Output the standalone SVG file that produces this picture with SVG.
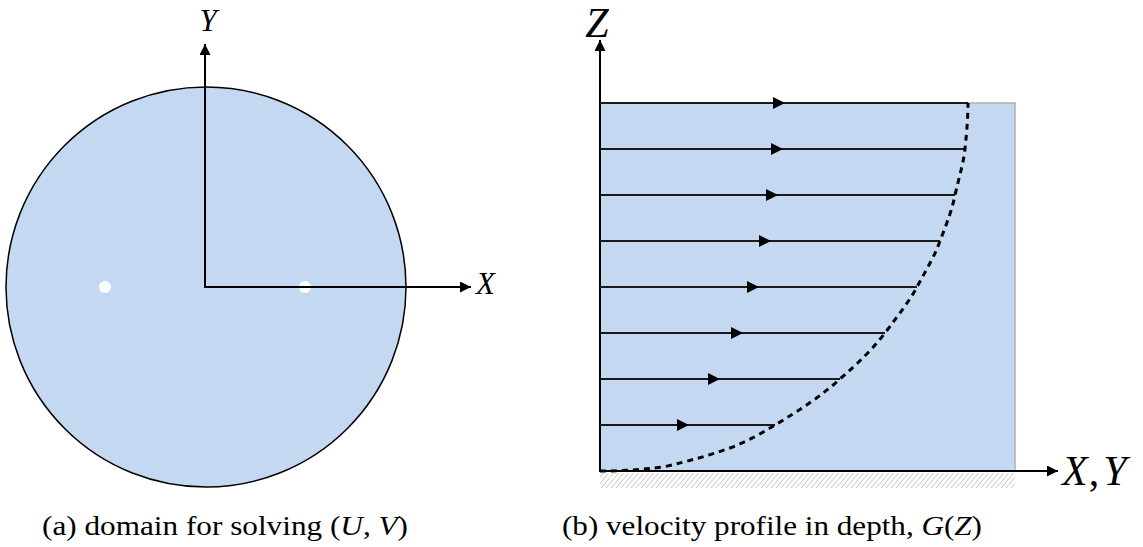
<svg xmlns="http://www.w3.org/2000/svg" width="1143" height="547" viewBox="0 0 1143 547">
<style>
.ax{stroke:#000;stroke-width:2;fill:none}
.fl{stroke:#1a1a1a;stroke-width:2;fill:none}
text{font-family:'Liberation Serif','Times New Roman',serif;fill:#000}
.math{font-style:italic}
.cap{font-size:28px}
.it{font-style:italic}
</style>
<defs>
<marker id="ah" viewBox="0 0 10 10" refX="10" refY="5" markerWidth="8" markerHeight="5.5" markerUnits="strokeWidth" orient="auto">
<path d="M0,0 L10,5 L0,10 z" fill="#000"/>
</marker>
<marker id="ah2" viewBox="0 0 10 10" refX="10" refY="5" markerWidth="8.5" markerHeight="5.5" markerUnits="strokeWidth" orient="auto">
<path d="M0,0 L10,5 L0,10 z" fill="#000"/>
</marker>
<pattern id="hatch" width="5" height="16" patternUnits="userSpaceOnUse" patternTransform="skewX(-40)">
<line x1="0" y1="0" x2="0" y2="16" stroke="#8a8a8a" stroke-width="1"/>
</pattern>
</defs>

<g id="domain">
<circle cx="206" cy="287" r="200" fill="#c5d8f1" stroke="#000" stroke-width="1.5"/>
<circle cx="105" cy="287" r="6" fill="#fff"/>
<circle cx="305" cy="287" r="6" fill="#fff"/>
</g>

<g id="profile">
<rect x="600" y="103" width="415" height="368" fill="#c5d8f1" stroke="#b0b0b0" stroke-width="1.5"/>
<rect x="600" y="473" width="415" height="15" fill="url(#hatch)"/>
</g>

<g id="connectors">
<line class="ax" x1="205" y1="288" x2="205" y2="44" marker-end="url(#ah)"/>
<line class="ax" x1="204" y1="287" x2="471" y2="287" marker-end="url(#ah)"/>
<line class="ax" x1="600" y1="472" x2="600" y2="40" stroke-width="2.5" marker-end="url(#ah2)"/>
<line class="ax" x1="599" y1="471" x2="1058" y2="471" stroke-width="2.5" marker-end="url(#ah2)"/>
<g class="fl">
<line x1="600" y1="103" x2="968" y2="103"/>
<line x1="600" y1="149" x2="965" y2="149"/>
<line x1="600" y1="195" x2="955" y2="195"/>
<line x1="600" y1="241" x2="940" y2="241"/>
<line x1="600" y1="287" x2="917" y2="287"/>
<line x1="600" y1="333" x2="885" y2="333"/>
<line x1="600" y1="379" x2="840" y2="379"/>
<line x1="600" y1="425" x2="775" y2="425"/>
</g>
<g fill="#000">
<path d="M773,97 L785,103 L773,109 z"/>
<path d="M771,143 L783,149 L771,155 z"/>
<path d="M766,189 L778,195 L766,201 z"/>
<path d="M759,235 L771,241 L759,247 z"/>
<path d="M747,281 L759,287 L747,293 z"/>
<path d="M731,327 L743,333 L731,339 z"/>
<path d="M708,373 L720,379 L708,385 z"/>
<path d="M677,419 L689,425 L677,431 z"/>
</g>
<path d="M600,471 C620,471 640,470 663,467 C690,461 710,455 730,448 C748,441 762,433 775,425 C800,410 820,397 840,379 C858,363 872,350 885,333 C900,313 910,300 917,287 C930,263 935,255 940,241 C948,220 952,210 955,195 C960,174 964,160 965,149 C967,130 968,115 968,103" fill="none" stroke="#000" stroke-width="3" stroke-dasharray="6,5"/>
</g>

<g id="labels">
<text class="math" font-family="Liberation Serif" x="208" y="31" font-size="31" text-anchor="middle">Y</text>
<text class="math" font-family="Liberation Serif" x="476" y="294" font-size="31">X</text>
<text class="math" font-family="Liberation Serif" x="597" y="37" font-size="42" text-anchor="middle">Z</text>
<text class="math" font-family="Liberation Serif" x="1062" y="485" font-size="42">X<tspan font-style="normal" dx="1">,</tspan><tspan dx="4">Y</tspan></text>
<text class="cap" font-family="Liberation Serif" x="42" y="535" textLength="366" lengthAdjust="spacingAndGlyphs">(a) domain for solving (<tspan class="it">U</tspan>, <tspan class="it">V</tspan>)</text>
<text class="cap" font-family="Liberation Serif" x="562" y="535" textLength="420" lengthAdjust="spacingAndGlyphs">(b) velocity profile in depth, <tspan class="it">G</tspan>(<tspan class="it">Z</tspan>)</text>
</g>
</svg>
